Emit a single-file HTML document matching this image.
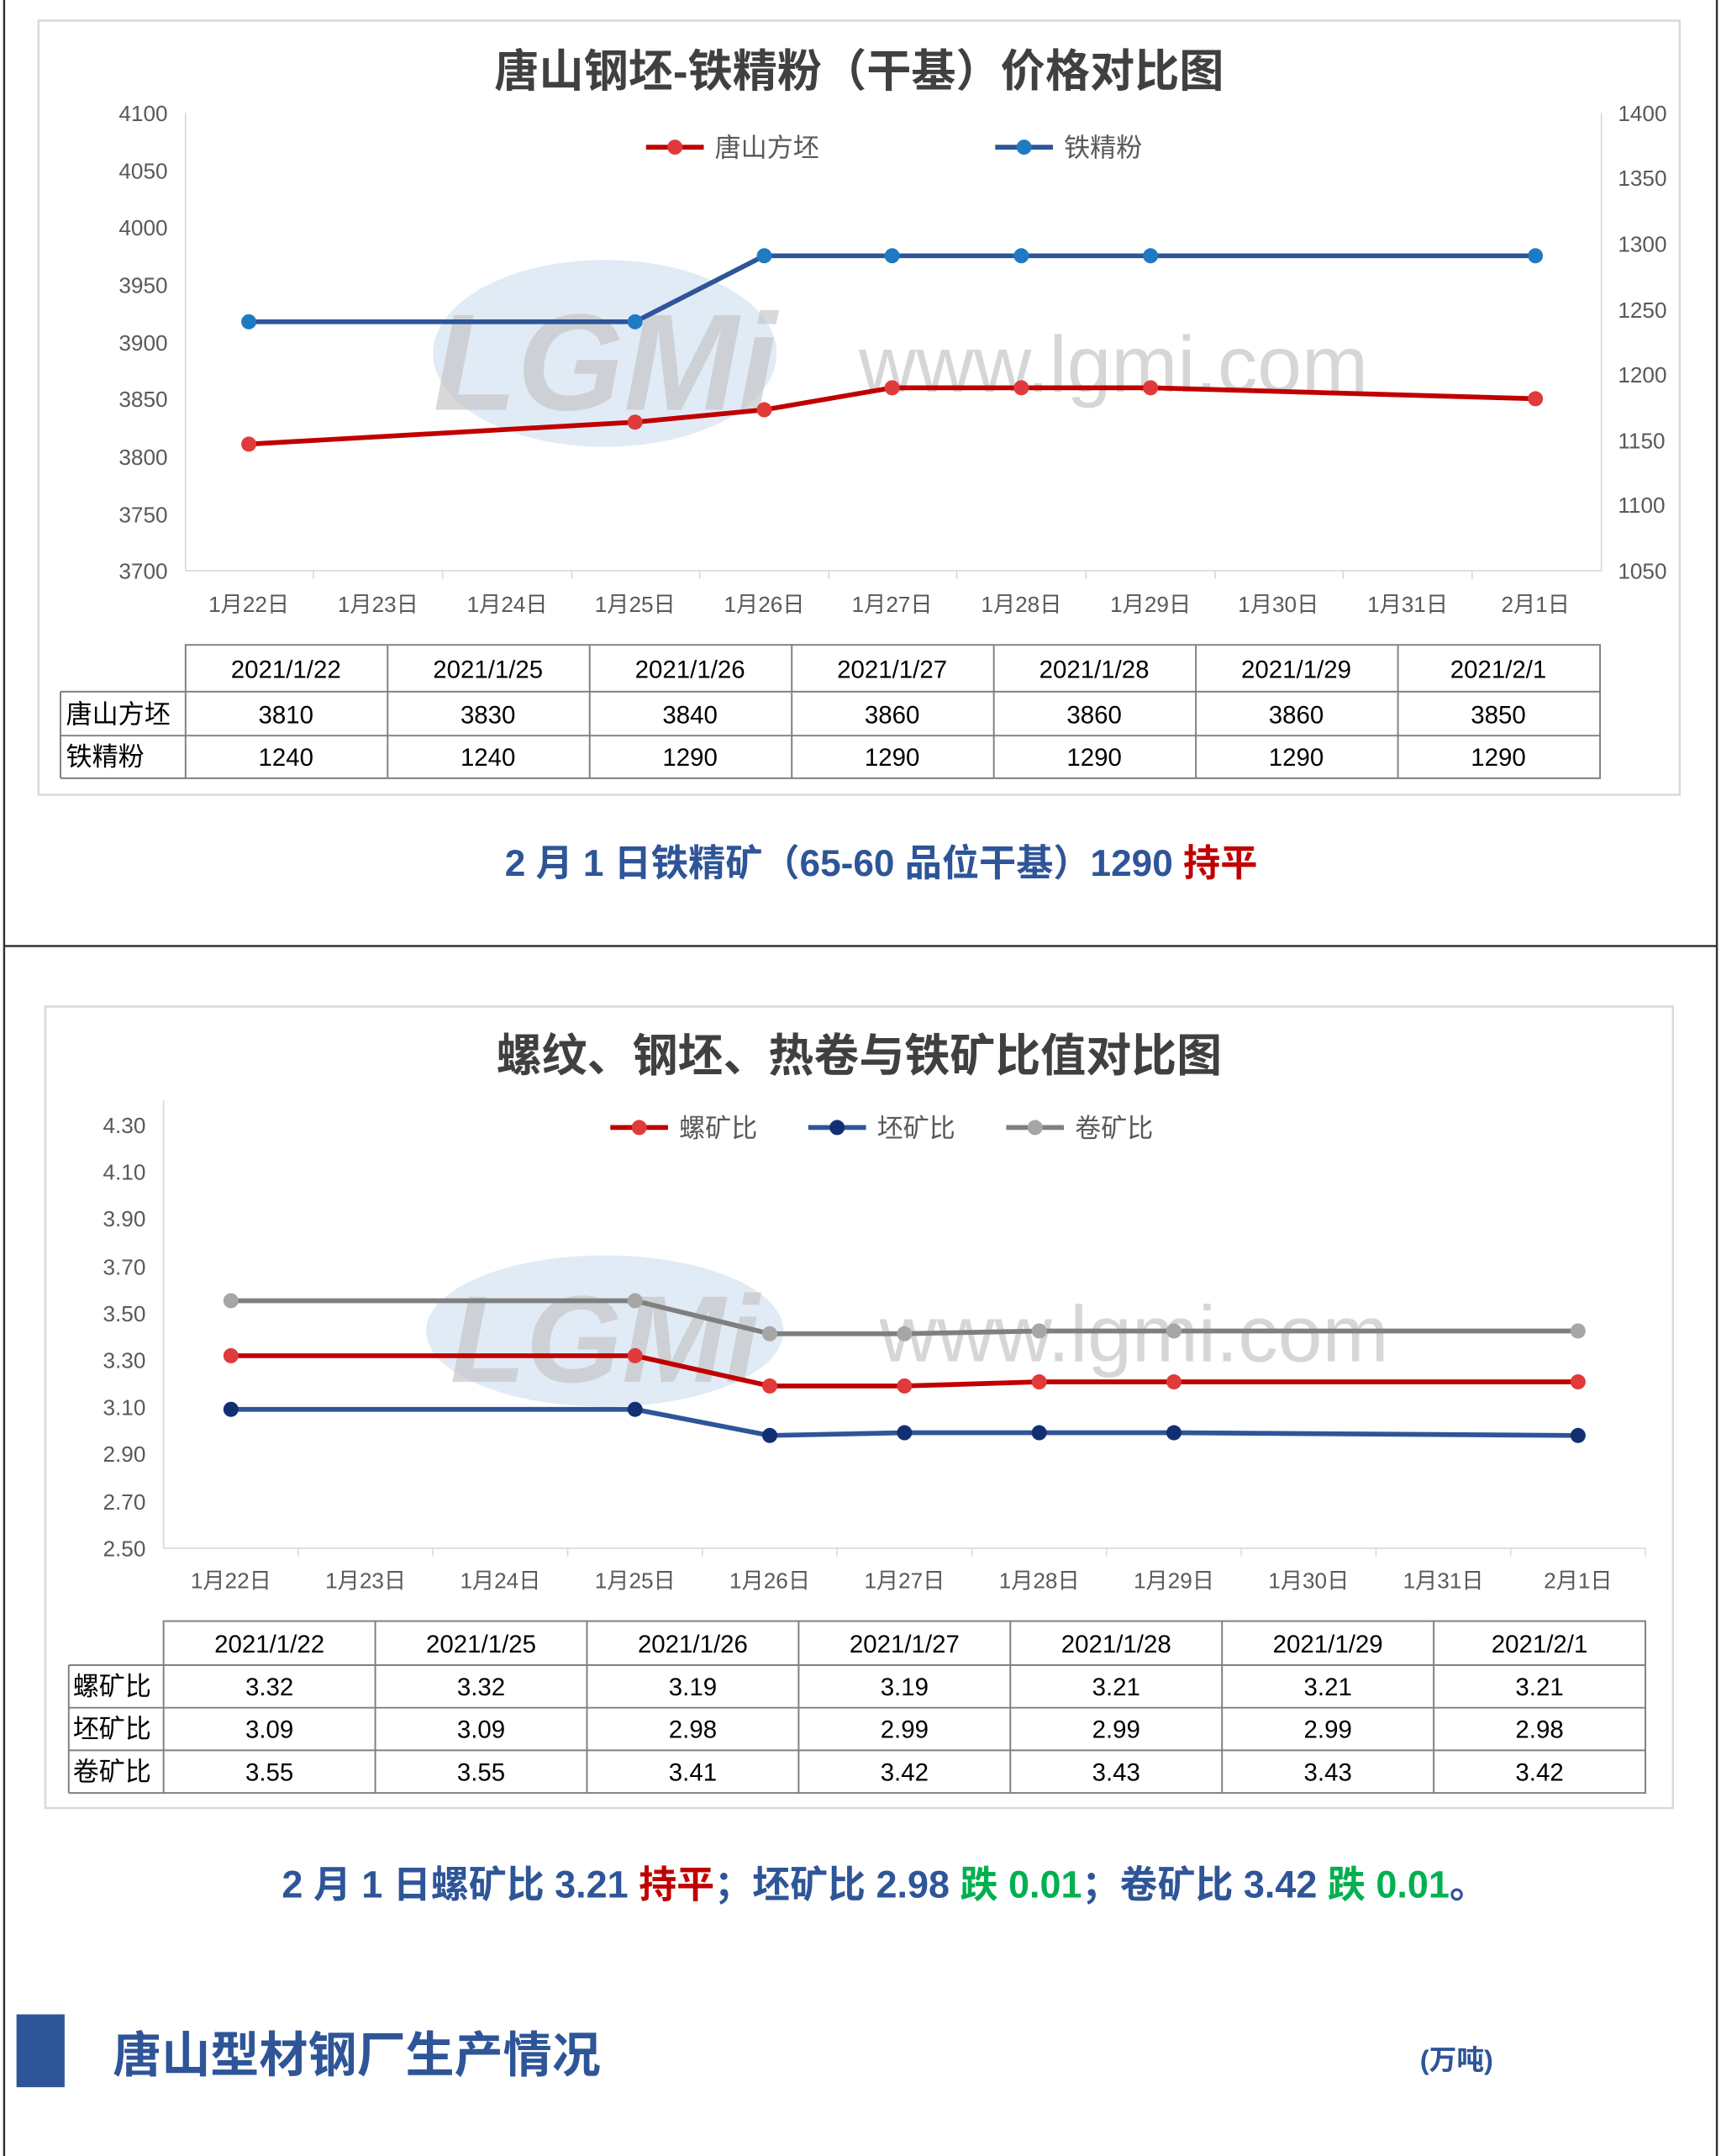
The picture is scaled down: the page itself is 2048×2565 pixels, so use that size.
<!DOCTYPE html>
<html><head><meta charset="utf-8"><style>
html,body{margin:0;padding:0;background:#fff}
svg{display:block}
text{font-family:"Liberation Sans","Noto Sans CJK SC",sans-serif}
</style></head><body>
<svg width="2048" height="2565" viewBox="0 0 1252 1568" xmlns="http://www.w3.org/2000/svg">
<rect width="1252" height="1568" fill="#fff"/>
<line x1="3" y1="0" x2="3" y2="1568" stroke="#333" stroke-width="1.5"/>
<line x1="1249" y1="0" x2="1249" y2="1568" stroke="#333" stroke-width="1.5"/>
<line x1="3" y1="688" x2="1249" y2="688" stroke="#333" stroke-width="1.5"/>

<!-- Chart 1 -->
<rect x="28" y="15" width="1194" height="563" fill="none" stroke="#d9d9d9" stroke-width="1.5"/>
<text x="625" y="63" text-anchor="middle" font-size="32.5" font-weight="bold" fill="#404040">唐山钢坯-铁精粉（干基）价格对比图</text>
<!-- watermark -->
<ellipse cx="440" cy="257" rx="125" ry="68" fill="#d6e4f3" opacity="0.75"/>
<text x="440" y="298" text-anchor="middle" font-size="100" font-weight="bold" fill="#c4c4c4" opacity="0.65" font-style="italic">LGMi</text>
<text x="810" y="285" text-anchor="middle" font-size="58" font-family="Liberation Serif" fill="#d6d6d6">www.lgmi.com</text>
<g stroke="#d9d9d9" stroke-width="1">
<line x1="135" y1="82" x2="135" y2="415"/><line x1="1165" y1="82" x2="1165" y2="415"/>
<line x1="135" y1="415" x2="1165" y2="415"/>
</g>
<g font-size="16" fill="#595959" text-anchor="end">
<text x="122" y="88">4100</text><text x="122" y="130">4050</text><text x="122" y="171">4000</text><text x="122" y="213">3950</text><text x="122" y="255">3900</text><text x="122" y="296">3850</text><text x="122" y="338">3800</text><text x="122" y="380">3750</text><text x="122" y="421">3700</text>
</g>
<g font-size="16" fill="#595959">
<text x="1177" y="88">1400</text><text x="1177" y="135">1350</text><text x="1177" y="183">1300</text><text x="1177" y="231">1250</text><text x="1177" y="278">1200</text><text x="1177" y="326">1150</text><text x="1177" y="373">1100</text><text x="1177" y="421">1050</text>
</g>
<g font-size="16" fill="#595959" text-anchor="middle">
<text x="181" y="445">1月22日</text><text x="275" y="445">1月23日</text><text x="369" y="445">1月24日</text><text x="462" y="445">1月25日</text><text x="556" y="445">1月26日</text><text x="649" y="445">1月27日</text><text x="743" y="445">1月28日</text><text x="837" y="445">1月29日</text><text x="930" y="445">1月30日</text><text x="1024" y="445">1月31日</text><text x="1117" y="445">2月1日</text>
</g>
<g stroke="#d9d9d9"><line x1="228" y1="415" x2="228" y2="421"/><line x1="322" y1="415" x2="322" y2="421"/><line x1="416" y1="415" x2="416" y2="421"/><line x1="509" y1="415" x2="509" y2="421"/><line x1="603" y1="415" x2="603" y2="421"/><line x1="696" y1="415" x2="696" y2="421"/><line x1="790" y1="415" x2="790" y2="421"/><line x1="884" y1="415" x2="884" y2="421"/><line x1="977" y1="415" x2="977" y2="421"/><line x1="1071" y1="415" x2="1071" y2="421"/></g>
<polyline points="181,234 462,234 556,186 649,186 743,186 837,186 1117,186" fill="none" stroke="#2e5597" stroke-width="3.5"/>
<polyline points="181,323 462,307 556,298 649,282 743,282 837,282 1117,290" fill="none" stroke="#c00000" stroke-width="3.5"/>
<g fill="#1f7bc1"><circle cx="181" cy="234" r="5.5"/><circle cx="462" cy="234" r="5.5"/><circle cx="556" cy="186" r="5.5"/><circle cx="649" cy="186" r="5.5"/><circle cx="743" cy="186" r="5.5"/><circle cx="837" cy="186" r="5.5"/><circle cx="1117" cy="186" r="5.5"/></g>
<g fill="#e03a3a"><circle cx="181" cy="323" r="5.5"/><circle cx="462" cy="307" r="5.5"/><circle cx="556" cy="298" r="5.5"/><circle cx="649" cy="282" r="5.5"/><circle cx="743" cy="282" r="5.5"/><circle cx="837" cy="282" r="5.5"/><circle cx="1117" cy="290" r="5.5"/></g>
<line x1="470" y1="107" x2="512" y2="107" stroke="#c00000" stroke-width="3.5"/><circle cx="491" cy="107" r="5.5" fill="#e03a3a"/>
<text x="520" y="114" font-size="19" fill="#595959">唐山方坯</text>
<line x1="724" y1="107" x2="766" y2="107" stroke="#2e5597" stroke-width="3.5"/><circle cx="745" cy="107" r="5.5" fill="#1f7bc1"/>
<text x="774" y="114" font-size="19" fill="#595959">铁精粉</text>
<!-- table 1 -->
<g stroke="#808080" stroke-width="1.2" fill="none">
<rect x="135" y="469" width="1029" height="97"/>
<line x1="44" y1="503" x2="1164" y2="503"/><line x1="44" y1="535" x2="1164" y2="535"/><line x1="44" y1="566" x2="135" y2="566"/>
<line x1="44" y1="503" x2="44" y2="566"/>
<line x1="282" y1="469" x2="282" y2="566"/><line x1="429" y1="469" x2="429" y2="566"/><line x1="576" y1="469" x2="576" y2="566"/><line x1="723" y1="469" x2="723" y2="566"/><line x1="870" y1="469" x2="870" y2="566"/><line x1="1017" y1="469" x2="1017" y2="566"/>
</g>
<g font-size="18" fill="#000" text-anchor="middle">
<text x="208" y="493">2021/1/22</text><text x="355" y="493">2021/1/25</text><text x="502" y="493">2021/1/26</text><text x="649" y="493">2021/1/27</text><text x="796" y="493">2021/1/28</text><text x="943" y="493">2021/1/29</text><text x="1090" y="493">2021/2/1</text>
<text x="208" y="526">3810</text><text x="355" y="526">3830</text><text x="502" y="526">3840</text><text x="649" y="526">3860</text><text x="796" y="526">3860</text><text x="943" y="526">3860</text><text x="1090" y="526">3850</text>
<text x="208" y="557">1240</text><text x="355" y="557">1240</text><text x="502" y="557">1290</text><text x="649" y="557">1290</text><text x="796" y="557">1290</text><text x="943" y="557">1290</text><text x="1090" y="557">1290</text>
</g>
<text x="48" y="526" font-size="19" fill="#000">唐山方坯</text>
<text x="48" y="557" font-size="19" fill="#000">铁精粉</text>
<text x="641" y="637" text-anchor="middle" font-size="27" font-weight="bold" fill="#2e5597">2 月 1 日铁精矿（65-60 品位干基）1290 <tspan fill="#c00000">持平</tspan></text>

<!-- Chart 2 -->
<rect x="33" y="732" width="1184" height="583" fill="none" stroke="#d9d9d9" stroke-width="1.5"/>
<text x="625" y="779" text-anchor="middle" font-size="33" font-weight="bold" fill="#404040">螺纹、钢坯、热卷与铁矿比值对比图</text>
<ellipse cx="440" cy="968" rx="130" ry="55" fill="#d6e4f3" opacity="0.75"/>
<text x="440" y="1005" text-anchor="middle" font-size="90" font-weight="bold" fill="#c4c4c4" opacity="0.65" font-style="italic">LGMi</text>
<text x="825" y="990" text-anchor="middle" font-size="58" font-family="Liberation Serif" fill="#d6d6d6">www.lgmi.com</text>
<line x1="119" y1="800" x2="119" y2="1126" stroke="#d9d9d9"/>
<line x1="119" y1="1126" x2="1197" y2="1126" stroke="#d9d9d9"/>
<g font-size="16" fill="#595959" text-anchor="end">
<text x="106" y="824">4.30</text><text x="106" y="858">4.10</text><text x="106" y="892">3.90</text><text x="106" y="927">3.70</text><text x="106" y="961">3.50</text><text x="106" y="995">3.30</text><text x="106" y="1029">3.10</text><text x="106" y="1063">2.90</text><text x="106" y="1098">2.70</text><text x="106" y="1132">2.50</text>
</g>
<g stroke="#d9d9d9"><line x1="217" y1="1126" x2="217" y2="1132"/><line x1="315" y1="1126" x2="315" y2="1132"/><line x1="413" y1="1126" x2="413" y2="1132"/><line x1="511" y1="1126" x2="511" y2="1132"/><line x1="609" y1="1126" x2="609" y2="1132"/><line x1="707" y1="1126" x2="707" y2="1132"/><line x1="805" y1="1126" x2="805" y2="1132"/><line x1="903" y1="1126" x2="903" y2="1132"/><line x1="1001" y1="1126" x2="1001" y2="1132"/><line x1="1099" y1="1126" x2="1099" y2="1132"/><line x1="1197" y1="1126" x2="1197" y2="1132"/></g>
<g font-size="16" fill="#595959" text-anchor="middle">
<text x="168" y="1155">1月22日</text><text x="266" y="1155">1月23日</text><text x="364" y="1155">1月24日</text><text x="462" y="1155">1月25日</text><text x="560" y="1155">1月26日</text><text x="658" y="1155">1月27日</text><text x="756" y="1155">1月28日</text><text x="854" y="1155">1月29日</text><text x="952" y="1155">1月30日</text><text x="1050" y="1155">1月31日</text><text x="1148" y="1155">2月1日</text>
</g>
<polyline points="168,946 462,946 560,970 658,970 756,968 854,968 1148,968" fill="none" stroke="#7f7f7f" stroke-width="3.5"/>
<polyline points="168,986 462,986 560,1008 658,1008 756,1005 854,1005 1148,1005" fill="none" stroke="#c00000" stroke-width="3.5"/>
<polyline points="168,1025 462,1025 560,1044 658,1042 756,1042 854,1042 1148,1044" fill="none" stroke="#2e5597" stroke-width="3.5"/>
<g fill="#a6a6a6"><circle cx="168" cy="946" r="5.5"/><circle cx="462" cy="946" r="5.5"/><circle cx="560" cy="970" r="5.5"/><circle cx="658" cy="970" r="5.5"/><circle cx="756" cy="968" r="5.5"/><circle cx="854" cy="968" r="5.5"/><circle cx="1148" cy="968" r="5.5"/></g>
<g fill="#e03a3a"><circle cx="168" cy="986" r="5.5"/><circle cx="462" cy="986" r="5.5"/><circle cx="560" cy="1008" r="5.5"/><circle cx="658" cy="1008" r="5.5"/><circle cx="756" cy="1005" r="5.5"/><circle cx="854" cy="1005" r="5.5"/><circle cx="1148" cy="1005" r="5.5"/></g>
<g fill="#132f74"><circle cx="168" cy="1025" r="5.5"/><circle cx="462" cy="1025" r="5.5"/><circle cx="560" cy="1044" r="5.5"/><circle cx="658" cy="1042" r="5.5"/><circle cx="756" cy="1042" r="5.5"/><circle cx="854" cy="1042" r="5.5"/><circle cx="1148" cy="1044" r="5.5"/></g>
<line x1="444" y1="820" x2="486" y2="820" stroke="#c00000" stroke-width="3.5"/><circle cx="465" cy="820" r="5.5" fill="#e03a3a"/>
<text x="494" y="827" font-size="19" fill="#595959">螺矿比</text>
<line x1="588" y1="820" x2="630" y2="820" stroke="#2e5597" stroke-width="3.5"/><circle cx="609" cy="820" r="5.5" fill="#132f74"/>
<text x="638" y="827" font-size="19" fill="#595959">坯矿比</text>
<line x1="732" y1="820" x2="774" y2="820" stroke="#7f7f7f" stroke-width="3.5"/><circle cx="753" cy="820" r="5.5" fill="#a6a6a6"/>
<text x="782" y="827" font-size="19" fill="#595959">卷矿比</text>
<!-- table 2 -->
<g stroke="#808080" stroke-width="1.2" fill="none">
<rect x="119" y="1179" width="1078" height="125"/>
<line x1="50" y1="1211" x2="1197" y2="1211"/><line x1="50" y1="1242" x2="1197" y2="1242"/><line x1="50" y1="1273" x2="1197" y2="1273"/><line x1="50" y1="1304" x2="119" y2="1304"/>
<line x1="50" y1="1211" x2="50" y2="1304"/>
<line x1="273" y1="1179" x2="273" y2="1304"/><line x1="427" y1="1179" x2="427" y2="1304"/><line x1="581" y1="1179" x2="581" y2="1304"/><line x1="735" y1="1179" x2="735" y2="1304"/><line x1="889" y1="1179" x2="889" y2="1304"/><line x1="1043" y1="1179" x2="1043" y2="1304"/>
</g>
<g font-size="18" fill="#000" text-anchor="middle">
<text x="196" y="1202">2021/1/22</text><text x="350" y="1202">2021/1/25</text><text x="504" y="1202">2021/1/26</text><text x="658" y="1202">2021/1/27</text><text x="812" y="1202">2021/1/28</text><text x="966" y="1202">2021/1/29</text><text x="1120" y="1202">2021/2/1</text>
<text x="196" y="1233">3.32</text><text x="350" y="1233">3.32</text><text x="504" y="1233">3.19</text><text x="658" y="1233">3.19</text><text x="812" y="1233">3.21</text><text x="966" y="1233">3.21</text><text x="1120" y="1233">3.21</text>
<text x="196" y="1264">3.09</text><text x="350" y="1264">3.09</text><text x="504" y="1264">2.98</text><text x="658" y="1264">2.99</text><text x="812" y="1264">2.99</text><text x="966" y="1264">2.99</text><text x="1120" y="1264">2.98</text>
<text x="196" y="1295">3.55</text><text x="350" y="1295">3.55</text><text x="504" y="1295">3.41</text><text x="658" y="1295">3.42</text><text x="812" y="1295">3.43</text><text x="966" y="1295">3.43</text><text x="1120" y="1295">3.42</text>
</g>
<g font-size="19" fill="#000"><text x="53" y="1233">螺矿比</text><text x="53" y="1264">坯矿比</text><text x="53" y="1295">卷矿比</text></g>
<text x="205" y="1380" font-size="27.5" font-weight="bold" fill="#2e5597">2 月 1 日螺矿比 3.21 <tspan fill="#c00000">持平</tspan>；坯矿比 2.98 <tspan fill="#00b050">跌 0.01</tspan>；卷矿比 3.42 <tspan fill="#00b050">跌 0.01</tspan>。</text>

<!-- bottom -->
<rect x="12" y="1465" width="35" height="53" fill="#2e5597"/>
<text x="82" y="1507" font-size="35.5" font-weight="bold" fill="#2e5597">唐山型材钢厂生产情况</text>
<text x="1033" y="1505" font-size="20" font-weight="bold" fill="#2e5597">(万吨)</text>
</svg>
</body></html>
